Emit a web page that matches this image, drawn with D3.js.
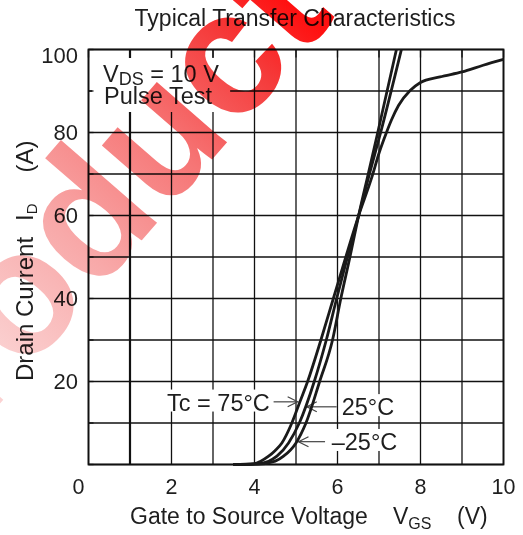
<!DOCTYPE html>
<meta charset="utf-8">
<html>
<head>
<script src="https://cdn.jsdelivr.net/npm/d3@7"></script>
<style>
  body { margin: 0; background: #fff; }
  svg text { font-family: "Liberation Sans", Arial, Helvetica, sans-serif; fill: #1e1e1e; }
</style>
</head>
<body>
<svg id="chart"></svg>
<script>
// DATA
var xTicks = [2, 4, 6, 8, 10];
var yTicks = [20, 40, 60, 80, 100];
var xGrid = [0, 1, 2, 3, 4, 5, 6, 7, 8, 9, 10];
var yGrid = [0, 10, 20, 30, 40, 50, 60, 70, 80, 90, 100];

// Tc = 75 C
var vgs75 = [3.49, 4.0, 4.15, 4.34, 4.5, 4.66, 4.9, 5.09, 5.28, 5.6, 5.9, 6.2, 6.51, 6.82, 7.0, 7.18, 7.3, 7.47, 7.75, 7.99, 8.47, 9.0, 9.51, 10];
var id75  = [0, 0.2, 0.8, 2, 3.4, 5.2, 10, 15, 20, 30, 40, 50, 60, 69, 75, 80, 83, 86.5, 90.1, 92, 93.4, 94.6, 96.2, 97.6];
// Tc = 25 C
var vgs25 = [3.49, 4.0, 4.34, 4.54, 4.82, 5.08, 5.44, 5.73, 5.98, 6.24, 6.51, 6.77, 7.04, 7.54];
var id25  = [0, 0.1, 0.8, 2, 5.2, 10, 20, 30, 40, 50, 60, 70, 80, 100];
// Tc = -25 C
var vgsM25 = [3.49, 4.1, 4.5, 4.7, 5.0, 5.24, 5.57, 5.88, 6.08, 6.3, 6.51, 6.74, 6.97, 7.42];
var idM25  = [0, 0.1, 0.8, 2, 5.2, 10, 20, 30, 40, 50, 60, 70, 80, 100];

var seriesV = [vgs75, vgs25, vgsM25];
var seriesI = [id75, id25, idM25];

// annotation arrows: [tip V, tip I, tail V]
var arrows = [[5.04, 15.1, 4.46], [5.26, 13.9, 5.98], [5.06, 5.5, 5.7]];

var width = 523, height = 535;
var svg = d3.select("#chart").attr("width", width).attr("height", height);

var x = d3.scaleLinear().domain([0, 10]).range([88.5, 503.5]);
var y = d3.scaleLinear().domain([0, 100]).range([464.5, 49.5]);

// title
svg.append("text")
  .attr("x", 295).attr("y", 26)
  .attr("text-anchor", "middle")
  .style("font-size", "23px")
  .text("Typical Transfer Characteristics");

// grid
var grid = svg.append("g");
grid.selectAll(".vg").data(xGrid).enter().append("line")
  .attr("x1", function(d) { return x(d); }).attr("x2", function(d) { return x(d); })
  .attr("y1", y(0)).attr("y2", y(100))
  .attr("stroke", "#111")
  .attr("stroke-width", function(d) { return d === 1 ? 2.2 : 1.3; });
grid.selectAll(".hg").data(yGrid).enter().append("line")
  .attr("y1", function(d) { return y(d); }).attr("y2", function(d) { return y(d); })
  .attr("x1", x(0)).attr("x2", x(10))
  .attr("stroke", "#111").attr("stroke-width", 1.3);

// labels with white box
function boxed(g, padL, padR, padT, padB) {
  var b = g.node().getBBox();
  g.insert("rect", ":first-child")
    .attr("x", b.x - padL).attr("y", b.y - padT)
    .attr("width", b.width + padL + padR).attr("height", b.height + padT + padB)
    .attr("fill", "#fff");
}

var cond = svg.append("g");
var t1 = cond.append("text").attr("x", 103).attr("y", 82).style("font-size", "23.5px");
t1.append("tspan").text("V");
t1.append("tspan").attr("dy", 3).style("font-size", "18px").text("DS");
t1.append("tspan").attr("dy", -3).text(" = 10 V");
cond.append("text").attr("x", 104).attr("y", 104).style("font-size", "23.5px").text("Pulse Test");
boxed(cond, 11, 11, 3, 3);

// inner ticks on the frame
var ticks = svg.append("g").attr("stroke", "#111").attr("stroke-width", 1.3);
ticks.selectAll(".tt").data(xGrid).enter().append("line")
  .attr("x1", function(d) { return x(d); }).attr("x2", function(d) { return x(d); })
  .attr("y1", y(100)).attr("y2", y(100) + 8);
ticks.selectAll(".tl").data(yGrid).enter().append("line")
  .attr("y1", function(d) { return y(d); }).attr("y2", function(d) { return y(d); })
  .attr("x1", x(0)).attr("x2", x(0) + 5);

// frame
svg.append("rect")
  .attr("x", x(0)).attr("y", y(100))
  .attr("width", x(10) - x(0)).attr("height", y(0) - y(100))
  .attr("fill", "none").attr("stroke", "#111").attr("stroke-width", 1.8);

// temperature labels
var lab75 = svg.append("g");
lab75.append("text").attr("x", x(4.37)).attr("y", y(13)).attr("text-anchor", "end")
  .style("font-size", "23.5px").text("Tc = 75\u00b0C");
boxed(lab75, 4, 4, 0, -4);
var lab25 = svg.append("g");
lab25.append("text").attr("x", x(6.1)).attr("y", y(11.9))
  .style("font-size", "23.5px").text("25\u00b0C");
boxed(lab25, 3, 3, 0, -4);
var labM25 = svg.append("g");
labM25.append("text").attr("x", x(5.86)).attr("y", y(3.5))
  .style("font-size", "23.5px").text("\u201325\u00b0C");
boxed(labM25, 3, 3, 0, -4);

// arrows
var arr = svg.append("g").attr("stroke", "#444").attr("stroke-width", 1.2).attr("fill", "none");
arrows.forEach(function(a) {
  var tx = x(a[0]), ty = y(a[1]), sx = x(a[2]);
  var dir = sx < tx ? -1 : 1;
  arr.append("line").attr("x1", sx).attr("y1", ty).attr("x2", tx).attr("y2", ty);
  arr.append("path").attr("d", "M" + (tx + dir * 10) + "," + (ty - 5) + "L" + tx + "," + ty + "L" + (tx + dir * 10) + "," + (ty + 5));
});

// curves
var line = d3.line()
  .x(function(d) { return x(d[0]); })
  .y(function(d) { return y(d[1]); })
  .curve(d3.curveMonotoneX);
svg.append("g").selectAll("path")
  .data(seriesV.map(function(v, i) { return d3.zip(v, seriesI[i]); }))
  .enter().append("path")
  .attr("d", line)
  .attr("fill", "none").attr("stroke", "#1a1a1a").attr("stroke-width", 2.8);

// tick labels
svg.append("g").selectAll("text").data(yTicks).enter().append("text")
  .attr("x", 78).attr("y", function(d) { return Math.max(y(d), 55.5); })
  .attr("dy", "0.35em").attr("text-anchor", "end")
  .style("font-size", "22px")
  .text(function(d) { return d; });
svg.append("g").selectAll("text").data(xTicks).enter().append("text")
  .attr("x", function(d) { return x(d); }).attr("y", 494)
  .attr("text-anchor", "middle")
  .style("font-size", "21.5px")
  .text(function(d) { return d; });
svg.append("text").attr("x", x(0) - 10).attr("y", 494).attr("text-anchor", "middle")
  .style("font-size", "21.5px").text("0");

// axis titles
var xt = svg.append("text").attr("x", 130).attr("y", 524).style("font-size", "23px");
xt.append("tspan").text("Gate to Source Voltage");
xt.append("tspan").attr("x", 393).text("V");
xt.append("tspan").attr("dy", 5).style("font-size", "16px").text("GS");
xt.append("tspan").attr("x", 457).attr("dy", -5).text("(V)");

var yt = svg.append("text").attr("transform", "translate(33,381) rotate(-90)").style("font-size", "24px");
yt.append("tspan").text("Drain Current");
yt.append("tspan").attr("dx", 16).text("I");
yt.append("tspan").attr("dy", 4).style("font-size", "15px").text("D");
yt.append("tspan").attr("dx", 31).attr("dy", -4).text("(A)");

// watermark (gradient runs along the rotated text)
var defs = svg.append("defs");
var grad = defs.append("linearGradient").attr("id", "wm")
  .attr("gradientUnits", "userSpaceOnUse")
  .attr("x1", 180).attr("y1", 0).attr("x2", 640).attr("y2", 0);
grad.append("stop").attr("offset", 0).attr("stop-color", "#fbd2d2");
grad.append("stop").attr("offset", 0.3).attr("stop-color", "#f8a9a9");
grad.append("stop").attr("offset", 0.6).attr("stop-color", "#f67575");
grad.append("stop").attr("offset", 0.85).attr("stop-color", "#f53a3a");
grad.append("stop").attr("offset", 1).attr("stop-color", "#ff1010");
svg.append("text")
  .attr("transform", "translate(-97,515) rotate(-49)")
  .style("font-size", "175px").style("font-weight", "bold")
  .style("fill", "url(#wm)").style("mix-blend-mode", "multiply")
  .text("Product");
</script>
</body>
</html>
